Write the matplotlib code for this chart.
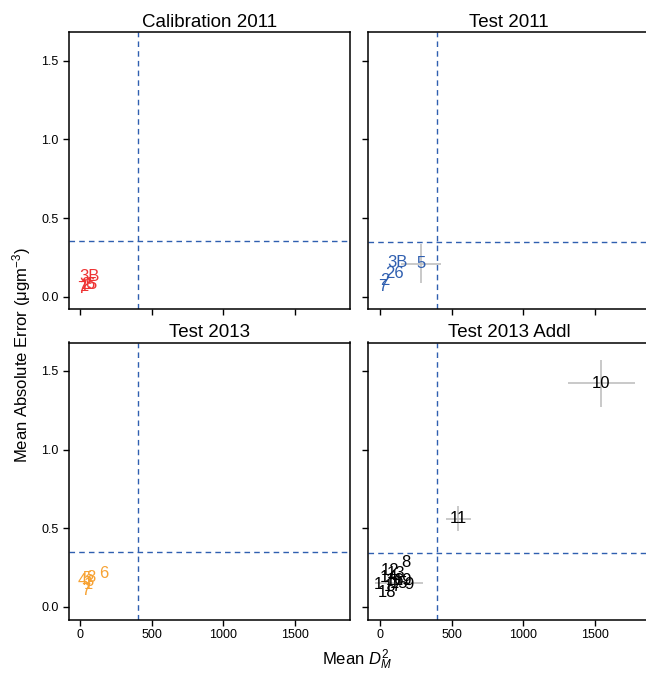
import matplotlib
matplotlib.use("Agg")
import matplotlib.pyplot as plt

plt.rcParams['font.family'] = ['Liberation Sans', 'DejaVu Sans']
plt.rcParams['mathtext.fontset'] = 'custom'
plt.rcParams['mathtext.rm'] = 'Liberation Sans'
plt.rcParams['mathtext.it'] = 'Liberation Sans:italic'

# panel data: label, mean D_M^2, mean absolute error, and error bar half-widths
cal_lab = ["3B", "2", "6", "7", "5", "1"]
cal_x = [60, 35, 65, 10, 80, 25]
cal_y = [0.13, 0.08, 0.075, 0.05, 0.08, 0.065]
cal_xe = [0, 0, 0, 0, 0, 0]
cal_ye = [0, 0, 0, 0, 0, 0]

t11_lab = ["3B", "5", "26", "2", "7"]
t11_x = [119, 285, 98, 35, 15]
t11_y = [0.22, 0.21, 0.148, 0.10, 0.065]
t11_xe = [0, 140, 0, 0, 0]
t11_ye = [0, 0.125, 0, 0, 0]

t13_lab = ["4", "5", "8", "3", "6", "7", "1"]
t13_x = [10, 45, 75, 60, 165, 35, 55]
t13_y = [0.17, 0.18, 0.19, 0.16, 0.21, 0.105, 0.14]
t13_xe = [0, 0, 0, 0, 0, 0, 0]
t13_ye = [0, 0, 0, 0, 0, 0, 0]

add_lab = ["12", "8", "13", "14", "16", "15", "19", "17", "9", "1", "18", "10", "11"]
add_x = [70, 180, 110, 60, 100, 130, 160, 90, 200, -10, 50, 1548, 546]
add_y = [0.23, 0.28, 0.21, 0.19, 0.17, 0.15, 0.17, 0.13, 0.145, 0.14, 0.09, 1.42, 0.56]
add_xe = [0, 0, 0, 0, 0, 170, 0, 0, 0, 0, 0, 235, 88]
add_ye = [0, 0, 0, 0, 0, 0, 0, 0, 0, 0, 0, 0.15, 0.08]

titles = ["Calibration 2011", "Test 2011", "Test 2013", "Test 2013 Addl"]
colors = ["#EE3333", "#2F5FB0", "#F7A233", "#000000"]
hlines = [0.357, 0.345, 0.351, 0.345]
vline = 400

panels = [
    (cal_lab, cal_x, cal_y, cal_xe, cal_ye),
    (t11_lab, t11_x, t11_y, t11_xe, t11_ye),
    (t13_lab, t13_x, t13_y, t13_xe, t13_ye),
    (add_lab, add_x, add_y, add_xe, add_ye),
]

fig = plt.figure(figsize=(6.46, 6.74), dpi=100)
W, H = 646, 674
lefts = [68.5, 368.3]
tops = [32.3, 342.5]
pw, ph = 281.5, 277

dash_col = "#2F5FB0"

for i, (lab, xs, ys, xe, ye) in enumerate(panels):
    r, c = divmod(i, 2)
    ax = fig.add_axes([lefts[c] / W, 1 - (tops[r] + ph) / H, pw / W, ph / H])
    ax.set_xlim(-84, 1887)
    ax.set_ylim(-0.08, 1.68)
    ax.errorbar(xs, ys, xerr=xe, yerr=ye, fmt='none', ecolor='#BBBBBB',
                elinewidth=1.1, capsize=0, zorder=1)
    for l, x, y in zip(lab, xs, ys):
        ax.text(x, y, l, color=colors[i], fontsize=12, ha='center', va='center', zorder=3)
    ax.axvline(vline, color=dash_col, lw=1, ls=(0, (4, 3)), zorder=2)
    ax.axhline(hlines[i], color=dash_col, lw=1, ls=(0, (4, 3)), zorder=2)
    ax.set_xticks([0, 500, 1000, 1500])
    ax.set_yticks([0.0, 0.5, 1.0, 1.5])
    ax.tick_params(direction='out', length=4, width=1, labelsize=9, pad=3)
    if r == 0:
        ax.set_xticklabels([])
    if c == 1:
        ax.set_yticklabels([])
    for s in ax.spines.values():
        s.set_linewidth(1.1)
    ax.set_title(titles[i], fontsize=13.5, pad=4)

fig.text(22 / W, 1 - 355 / H, "Mean Absolute Error (μgm$^{-3}$)", rotation=90,
         ha='center', va='center', fontsize=12)
fig.text(357 / W, 1 - 660 / H, "Mean $D_M^2$", ha='center', va='center', fontsize=12)

fig.savefig("out.png", dpi=100)
